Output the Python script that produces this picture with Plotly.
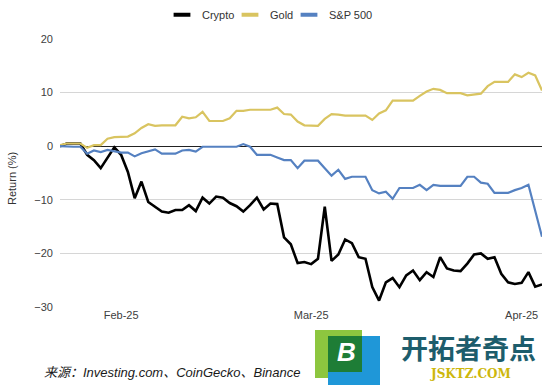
import plotly.graph_objects as go
import pandas as pd

# ---------------- data ----------------
dates = pd.date_range("2025-01-23", "2025-04-04", freq="D")

crypto = [0, 0.5, 0.5, 0.5, -1.6, -2.6, -4.1, -2.2, -0.2, -1.6,
          -4.8, -9.7, -6.6, -10.4, -11.3, -12.2, -12.4, -11.9, -11.9, -11.0,
          -12.1, -9.6, -10.7, -9.4, -9.6, -10.6, -11.2, -12.2, -11.0, -9.6,
          -11.8, -10.7, -10.8, -17.0, -18.3, -21.8, -21.6, -22.0, -21.0, -11.3,
          -21.4, -20.2, -17.4, -18.1, -20.7, -21.0, -26.3, -28.8, -25.4, -24.6,
          -26.3, -24.1, -23.2, -25.0, -23.5, -24.4, -20.7, -22.8, -23.2, -23.3,
          -21.9, -20.2, -20.0, -21.0, -20.7, -23.8, -25.4, -25.7, -25.5, -23.5,
          -26.2, -25.8]

gold = [0.2, 0.5, 0.5, 0.5, -0.3, 0.2, 0.2, 1.4, 1.7, 1.7,
        1.8, 2.4, 3.4, 4.1, 3.8, 3.9, 3.9, 3.9, 5.5, 5.2,
        5.4, 6.4, 4.7, 4.7, 4.7, 5.2, 6.6, 6.6, 6.8, 6.8,
        6.8, 6.8, 7.2, 6.0, 5.9, 4.6, 3.9, 3.8, 3.8, 5.1,
        6.0, 5.9, 5.7, 5.7, 5.7, 5.7, 4.9, 6.1, 6.7, 8.5,
        8.5, 8.5, 8.5, 9.4, 10.2, 10.7, 10.5, 9.9, 9.9, 9.9,
        9.5, 9.7, 9.8, 11.2, 12.0, 12.0, 12.0, 13.4, 12.9, 13.7,
        13.2, 10.4]

sp500 = [0, -0.1, -0.1, -0.1, -1.4, -0.8, -1.1, -0.7, -0.9, -1.2,
         -1.2, -1.9, -1.3, -0.9, -0.6, -1.4, -1.4, -1.4, -0.8, -0.7,
         -1.0, -0.1, -0.1, -0.1, -0.1, -0.1, -0.1, 0.4, -0.1, -1.6,
         -1.6, -1.6, -2.1, -2.6, -2.6, -4.1, -2.7, -2.7, -2.7, -4.1,
         -5.5, -4.4, -6.1, -5.7, -5.7, -5.7, -8.2, -8.8, -8.5, -9.8,
         -7.8, -7.8, -7.8, -7.2, -8.2, -7.2, -7.4, -7.4, -7.4, -7.4,
         -5.7, -5.7, -6.8, -7.0, -8.7, -8.7, -8.7, -8.2, -7.8, -7.2,
         -12.0, -16.9]

series_names = ["Crypto", "Gold", "S&P 500"]
series_values = [crypto, gold, sp500]
x_tick_vals = ["2025-02-01", "2025-03-01", "2025-04-01"]
x_tick_text = ["Feb-25", "Mar-25", "Apr-25"]
y_tick_vals = [20, 10, 0, -10, -20, -30]
y_title = "Return (%)"
source_text = "<i>来源：Investing.com、CoinGecko、Binance</i>"

# ---------------- style ----------------
W, H = 555, 385
ML, MR, MT, MB = 60, 13, 39, 78
colors = ["#000000", "#d9c460", "#5581c1"]
widths = [2.6, 2.2, 2.2]
FONT = "Arial, 'Liberation Sans', 'Noto Sans CJK SC', sans-serif"

PW, PH = W - ML - MR, H - MT - MB


def px_x(px):
    return (px - ML) / PW


def px_y(py):
    return (H - MB - py) / PH


fig = go.Figure()
for name, vals, c, w in zip(series_names, series_values, colors, widths):
    fig.add_trace(go.Scatter(x=dates, y=vals, mode="lines", name=name,
                             line=dict(color=c, width=w), showlegend=False))

legend_ids = ["legend", "legend2", "legend3"]
legend_x = [162, 230, 289]
for name, c, lid in zip(series_names, colors, legend_ids):
    fig.add_trace(go.Scatter(x=[None], y=[None], mode="markers", name=name,
                             legend=lid,
                             marker=dict(symbol="line-ew", size=12, color=c,
                                         line=dict(width=4, color=c))))

legend_common = dict(orientation="h", xref="container", yref="container",
                     xanchor="left", yanchor="middle",
                     bgcolor="rgba(0,0,0,0)", borderwidth=0,
                     font=dict(family=FONT, size=11, color="#333333"))
layout_legends = {}
for lid, lx in zip(legend_ids, legend_x):
    layout_legends[lid] = dict(legend_common, x=lx / W, y=1 - 14.7 / H)

fig.update_layout(
    width=W, height=H,
    margin=dict(l=ML, r=MR, t=MT, b=MB, autoexpand=False),
    paper_bgcolor="white", plot_bgcolor="white",
    font=dict(family=FONT, size=11, color="#404040"),
    **layout_legends,
)

fig.update_xaxes(type="date", range=[dates[0], dates[-1]],
                 tickvals=x_tick_vals, ticktext=x_tick_text,
                 showgrid=False, zeroline=False, showline=False, ticks="",
                 tickfont=dict(size=11, color="#404040"))
fig.update_yaxes(range=[-30, 20], tickvals=y_tick_vals,
                 showgrid=True, gridcolor="#d6d6d6", gridwidth=1.2,
                 zeroline=True, zerolinecolor="#222222", zerolinewidth=1.2,
                 showline=False, ticks="", ticklabelstandoff=6,
                 tickfont=dict(size=11, color="#404040"))


def note(text, px, py, size, color, family=FONT, angle=0, xa="center"):
    fig.add_annotation(text=text, textangle=angle, xref="paper", yref="paper",
                       x=px_x(px), y=px_y(py), showarrow=False,
                       xanchor=xa, yanchor="middle",
                       font=dict(size=size, color=color, family=family))


# y-axis title
note(y_title, 12, 179, 11, "#333333", angle=-90)
# source
note(source_text, 42, 372, 13, "#1a1a1a", xa="left")

# watermark logo
fig.add_shape(type="rect", xref="paper", yref="paper",
              x0=px_x(315), x1=px_x(362), y0=px_y(378), y1=px_y(330),
              fillcolor="#8dc63f", line=dict(width=0))
fig.add_shape(type="rect", xref="paper", yref="paper",
              x0=px_x(328), x1=px_x(380), y0=px_y(385), y1=px_y(336),
              fillcolor="#1f97d8", line=dict(width=0))
fig.add_shape(type="rect", xref="paper", yref="paper",
              x0=px_x(328), x1=px_x(362), y0=px_y(372), y1=px_y(336),
              fillcolor="#1e7d36", line=dict(width=0))
note("<b><i>B</i></b>", 346, 352, 26, "white", family="Arial")
note("<b>开拓者奇点</b>", 468, 347, 27, "#1d5d6c", family="'Noto Sans CJK SC'")
note("<b>JSKTZ.COM</b>", 470, 374, 12, "#cdb70c", family="'DejaVu Serif'")

fig.write_html("out.html",
               config={"displayModeBar": False},
               post_script="document.body.style.margin='0';"
                           "document.body.style.padding='0';")
